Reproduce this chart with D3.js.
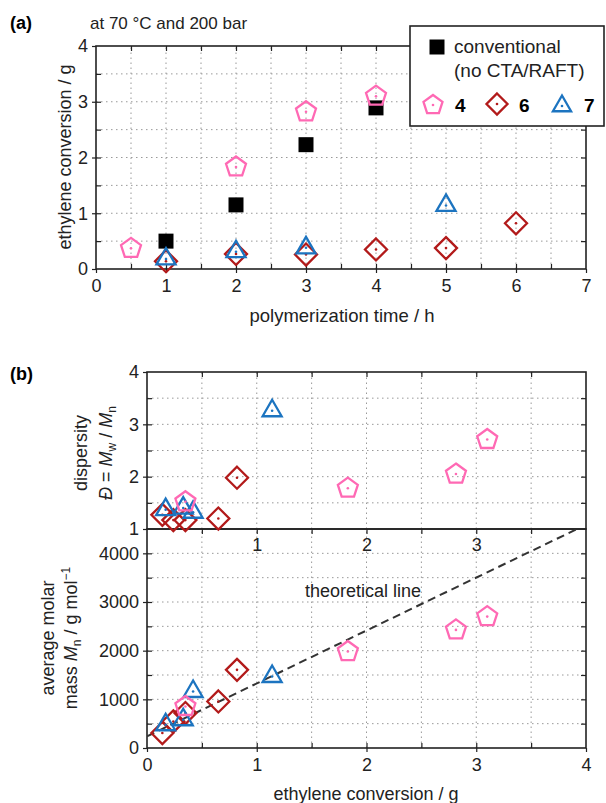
<!DOCTYPE html>
<html>
<head>
<meta charset="utf-8">
<script src="https://cdn.jsdelivr.net/npm/d3@7"></script>
<style>
  body { margin: 0; background: #fff; }
  svg { font-family: "Liberation Sans", Arial, sans-serif; }
  .tick text { font-size: 18px; fill: #222; }
  .tick line { stroke: #222; stroke-width: 1.2; }
</style>
</head>
<body>
<div id="chart"></div>
<script>
// ---- panel (a): conversion vs time ----
const timeConv = [1, 2, 3, 4];
const yieldConv = [0.5, 1.15, 2.23, 2.89];
const time4 = [0.5, 2, 3, 4];
const yield4 = [0.37, 1.83, 2.82, 3.1];
const time6 = [1, 2, 3, 4, 5, 6];
const yield6 = [0.14, 0.27, 0.26, 0.35, 0.375, 0.82];
const time7 = [1, 2, 3, 5];
const yield7 = [0.18, 0.31, 0.38, 1.14];

// ---- panel (b): dispersity and Mn vs conversion ----
const conv4 = [0.35, 1.83, 2.815, 3.1];
const disp4 = [1.52, 1.78, 2.05, 2.71];
const mn4 = [853, 1982, 2427, 2700];
const conv6 = [0.14, 0.24, 0.35, 0.65, 0.82];
const disp6 = [1.27, 1.17, 1.17, 1.2, 1.98];
const mn6 = [308, 546, 718, 956, 1606];
const conv7 = [0.17, 0.33, 0.42, 1.14];
const disp7 = [1.37, 1.4, 1.32, 3.26];
const mn7 = [478, 580, 1161, 1469];
// theoretical line
const theoConv = [0, 4];
const theoMn = [240, 4588];

// tick values
const ticksTime = [0, 1, 2, 3, 4, 5, 6, 7];
const ticksYieldA = [0, 1, 2, 3, 4];
const ticksConv = [0, 1, 2, 3, 4];
const ticksDisp = [1, 2, 3, 4];
const ticksMn = [0, 1000, 2000, 3000, 4000];

const colPink = '#ff69b4', colRed = '#b21a1a', colBlue = '#1c74c0';

const svg = d3.select('#chart').append('svg').attr('width', 606).attr('height', 803);

// marker shapes (size = radius squared)
const pentagon = { draw(ctx, size) {
  const r = Math.sqrt(size);
  for (let i = 0; i < 5; i++) {
    const a = -Math.PI / 2 + i * 2 * Math.PI / 5;
    i ? ctx.lineTo(r * Math.cos(a), r * Math.sin(a)) : ctx.moveTo(r * Math.cos(a), r * Math.sin(a));
  }
  ctx.closePath();
}};
const diamond = { draw(ctx, size) {
  const r = Math.sqrt(size);
  ctx.moveTo(0, -r); ctx.lineTo(r, 0); ctx.lineTo(0, r); ctx.lineTo(-r, 0); ctx.closePath();
}};
const square = { draw(ctx, size) {
  const r = Math.sqrt(size);
  ctx.rect(-r, -r, 2 * r, 2 * r);
}};
const triangle = { draw(ctx, size) {
  const r = Math.sqrt(size);
  ctx.moveTo(0, -r);
  ctx.lineTo(r * Math.cos(Math.PI / 6), r / 2);
  ctx.lineTo(-r * Math.cos(Math.PI / 6), r / 2);
  ctx.closePath();
}};

function markers(g, xs, ys, x, y, type, r, color, filled) {
  const pts = xs.map((v, i) => ({ x: v, y: ys[i] }));
  const gg = g.append('g');
  gg.selectAll('path').data(pts).join('path')
    .attr('transform', d => `translate(${x(d.x)},${y(d.y)})`)
    .attr('d', d3.symbol().type(type).size(r * r))
    .attr('fill', filled ? color : 'none')
    .attr('stroke', color).attr('stroke-width', filled ? 0 : 2.3)
    .attr('stroke-linejoin', 'miter');
  if (!filled) {
    gg.selectAll('circle').data(pts).join('circle')
      .attr('cx', d => x(d.x)).attr('cy', d => y(d.y)).attr('r', 1.3).attr('fill', color);
  }
}

function grid(g, x, y, xs, ys) {
  const [x0, x1] = x.range(), [y0, y1] = y.range();
  g.append('g').selectAll('line').data(xs).join('line')
    .attr('x1', d => x(d)).attr('x2', d => x(d)).attr('y1', y0).attr('y2', y1)
    .attr('stroke', '#999').attr('stroke-width', 1).attr('stroke-dasharray', '1.5,3.5');
  g.append('g').selectAll('line').data(ys).join('line')
    .attr('y1', d => y(d)).attr('y2', d => y(d)).attr('x1', x0).attr('x2', x1)
    .attr('stroke', '#999').attr('stroke-width', 1).attr('stroke-dasharray', '1.5,3.5');
}

function clean(sel) { sel.select('.domain').remove(); }

function frame(g, x, y) {
  const [x0, x1] = x.range(), [y0, y1] = y.range();
  g.append('rect').attr('x', x0).attr('y', y1).attr('width', x1 - x0).attr('height', y0 - y1)
    .attr('fill', 'none').attr('stroke', '#222').attr('stroke-width', 1.6);
}

// ---------- panel (a) ----------
const xA = d3.scaleLinear().domain([0, 7]).range([96, 586]);
const yA = d3.scaleLinear().domain([0, 4]).range([269, 46]);
const gA = svg.append('g');
const minorTime = d3.range(0.5, 7, 0.5), minorYA = d3.range(0.5, 4, 0.5);
grid(gA, xA, yA, minorTime, minorYA);

gA.append('g').attr('transform', 'translate(0,269)')
  .call(d3.axisBottom(xA).tickValues(minorTime).tickSize(-5).tickFormat('')).call(clean);
gA.append('g').attr('transform', 'translate(0,269)')
  .call(d3.axisBottom(xA).tickValues(ticksTime).tickSize(4).tickPadding(6).tickFormat(d3.format('d'))).call(clean);
gA.append('g').attr('transform', 'translate(0,46)')
  .call(d3.axisTop(xA).tickValues(minorTime).tickSize(-5).tickFormat('')).call(clean);
gA.append('g').attr('transform', 'translate(96,0)')
  .call(d3.axisLeft(yA).tickValues(minorYA).tickSize(-5).tickFormat('')).call(clean);
gA.append('g').attr('transform', 'translate(96,0)')
  .call(d3.axisLeft(yA).tickValues(ticksYieldA).tickSize(4).tickPadding(4).tickFormat(d3.format('d'))).call(clean);
gA.append('g').attr('transform', 'translate(586,0)')
  .call(d3.axisRight(yA).tickValues(minorYA).tickSize(-5).tickFormat('')).call(clean);
frame(gA, xA, yA);

markers(gA, timeConv, yieldConv, xA, yA, square, 7.5, '#000', true);
markers(gA, time6, yield6, xA, yA, diamond, 11, colRed, false);
markers(gA, time7, yield7, xA, yA, triangle, 11, colBlue, false);
markers(gA, time4, yield4, xA, yA, pentagon, 10.5, colPink, false);

gA.append('text').attr('x', 10).attr('y', 29).attr('font-size', 18).attr('font-weight', 'bold').text('(a)');
gA.append('text').attr('x', 90).attr('y', 29).attr('font-size', 17).attr('fill', '#222').text('at 70 °C and 200 bar');
gA.append('text').attr('x', 342).attr('y', 322).attr('text-anchor', 'middle').attr('font-size', 18.5).attr('fill', '#222')
  .text('polymerization time / h');
gA.append('text').attr('transform', 'translate(71,157) rotate(-90)').attr('text-anchor', 'middle')
  .attr('font-size', 18).attr('fill', '#222').text('ethylene conversion / g');

// legend
const leg = gA.append('g');
leg.append('rect').attr('x', 410).attr('y', 26).attr('width', 194).attr('height', 100)
  .attr('fill', '#fff').attr('stroke', '#222').attr('stroke-width', 1.6);
const legX = d3.scaleLinear().domain([0, 1]).range([0, 1]);
markers(leg, [437], [47], legX, legX, square, 7.5, '#000', true);
leg.append('text').attr('x', 454).attr('y', 53).attr('font-size', 19).attr('fill', '#222').text('conventional');
leg.append('text').attr('x', 454).attr('y', 77).attr('font-size', 19).attr('fill', '#222').text('(no CTA/RAFT)');
markers(leg, [433], [105], legX, legX, pentagon, 10, colPink, false);
markers(leg, [497], [104], legX, legX, diamond, 10.5, colRed, false);
markers(leg, [562], [106], legX, legX, triangle, 10.5, colBlue, false);
[['4', 455], ['6', 519], ['7', 584]].forEach(([t, x]) =>
  leg.append('text').attr('x', x).attr('y', 112).attr('font-size', 19).attr('font-weight', 'bold').text(t));

// ---------- panel (b) ----------
const xB = d3.scaleLinear().domain([0, 4]).range([147, 586]);
const yD = d3.scaleLinear().domain([1, 4]).range([529, 372]);
const yM = d3.scaleLinear().domain([0, 4500]).range([748, 529]);
const gB = svg.append('g');
const minorConv = d3.range(0.5, 4, 0.5);
grid(gB, xB, yD, minorConv, d3.range(1.5, 4, 0.5));
grid(gB, xB, yM, minorConv, d3.range(500, 4500, 500));

// upper axes
gB.append('g').attr('transform', 'translate(0,372)')
  .call(d3.axisTop(xB).tickValues(minorConv).tickSize(-5).tickFormat('')).call(clean);
gB.append('g').attr('transform', 'translate(0,529)')
  .call(d3.axisBottom(xB).tickValues([1, 2, 3]).tickSize(0).tickPadding(9).tickFormat(d3.format('d'))).call(clean);
gB.append('g').attr('transform', 'translate(147,0)')
  .call(d3.axisLeft(yD).tickValues(d3.range(1.5, 4, 0.5)).tickSize(-5).tickFormat('')).call(clean);
gB.append('g').attr('transform', 'translate(147,0)')
  .call(d3.axisLeft(yD).tickValues(ticksDisp).tickSize(4).tickPadding(4).tickFormat(d3.format('d'))).call(clean);
gB.append('g').attr('transform', 'translate(586,0)')
  .call(d3.axisRight(yD).tickValues(d3.range(1.5, 4, 0.5)).tickSize(-5).tickFormat('')).call(clean);
// lower axes
gB.append('g').attr('transform', 'translate(0,748)')
  .call(d3.axisBottom(xB).tickValues(minorConv).tickSize(-5).tickFormat('')).call(clean);
gB.append('g').attr('transform', 'translate(0,748)')
  .call(d3.axisBottom(xB).tickValues(ticksConv).tickSize(4).tickPadding(6).tickFormat(d3.format('d'))).call(clean);
gB.append('g').attr('transform', 'translate(0,529)')
  .call(d3.axisTop(xB).tickValues(minorConv).tickSize(-5).tickFormat('')).call(clean);
gB.append('g').attr('transform', 'translate(147,0)')
  .call(d3.axisLeft(yM).tickValues(d3.range(500, 4500, 500)).tickSize(-5).tickFormat('')).call(clean);
gB.append('g').attr('transform', 'translate(147,0)')
  .call(d3.axisLeft(yM).tickValues(ticksMn).tickSize(4).tickPadding(4).tickFormat(d3.format('d'))).call(clean);
gB.append('g').attr('transform', 'translate(586,0)')
  .call(d3.axisRight(yM).tickValues(d3.range(500, 4500, 500)).tickSize(-5).tickFormat('')).call(clean);
frame(gB, xB, yD);
frame(gB, xB, yM);

// theoretical line, clipped to lower panel
svg.append('clipPath').attr('id', 'clipM').append('rect')
  .attr('x', 147).attr('y', 529).attr('width', 439).attr('height', 219);
gB.append('path').datum(theoConv.map((v, i) => [v, theoMn[i]]))
  .attr('clip-path', 'url(#clipM)')
  .attr('d', d3.line().x(d => xB(d[0])).y(d => yM(d[1])))
  .attr('fill', 'none').attr('stroke', '#333').attr('stroke-width', 2).attr('stroke-dasharray', '8,5');
gB.append('text').attr('x', 305).attr('y', 597).attr('font-size', 18).attr('fill', '#222').text('theoretical line');

markers(gB, conv6, disp6, xB, yD, diamond, 11, colRed, false);
markers(gB, conv7, disp7, xB, yD, triangle, 11, colBlue, false);
markers(gB, conv4, disp4, xB, yD, pentagon, 10.5, colPink, false);
markers(gB, conv6, mn6, xB, yM, diamond, 11, colRed, false);
markers(gB, conv7, mn7, xB, yM, triangle, 11, colBlue, false);
markers(gB, conv4, mn4, xB, yM, pentagon, 10.5, colPink, false);

gB.append('text').attr('x', 10).attr('y', 380).attr('font-size', 18).attr('font-weight', 'bold').text('(b)');
gB.append('text').attr('x', 366).attr('y', 800).attr('text-anchor', 'middle').attr('font-size', 18).attr('fill', '#222')
  .text('ethylene conversion / g');

// y titles for (b)
const tD = gB.append('text').attr('transform', 'translate(0,453) rotate(-90)').attr('text-anchor', 'middle')
  .attr('font-size', 18).attr('fill', '#222');
tD.append('tspan').attr('x', 0).attr('y', 87).text('dispersity');
const l2 = tD.append('tspan').attr('x', 0).attr('y', 112);
l2.append('tspan').attr('font-style', 'italic').text('Đ');
l2.append('tspan').text(' = ');
l2.append('tspan').attr('font-style', 'italic').text('M');
l2.append('tspan').attr('font-size', 12).attr('dy', 4).text('w');
l2.append('tspan').attr('dy', -4).text(' / ');
l2.append('tspan').attr('font-style', 'italic').text('M');
l2.append('tspan').attr('font-size', 12).attr('dy', 4).text('n');

const tM = gB.append('text').attr('transform', 'translate(0,638) rotate(-90)').attr('text-anchor', 'middle')
  .attr('font-size', 18).attr('fill', '#222');
tM.append('tspan').attr('x', 0).attr('y', 54).text('average molar');
const m2 = tM.append('tspan').attr('x', 0).attr('y', 77);
m2.append('tspan').text('mass ');
m2.append('tspan').attr('font-style', 'italic').text('M');
m2.append('tspan').attr('font-size', 12).attr('dy', 4).text('n');
m2.append('tspan').attr('dy', -4).text(' / g mol');
m2.append('tspan').attr('font-size', 12).attr('dy', -7).text('−1');
</script>
</body>
</html>
